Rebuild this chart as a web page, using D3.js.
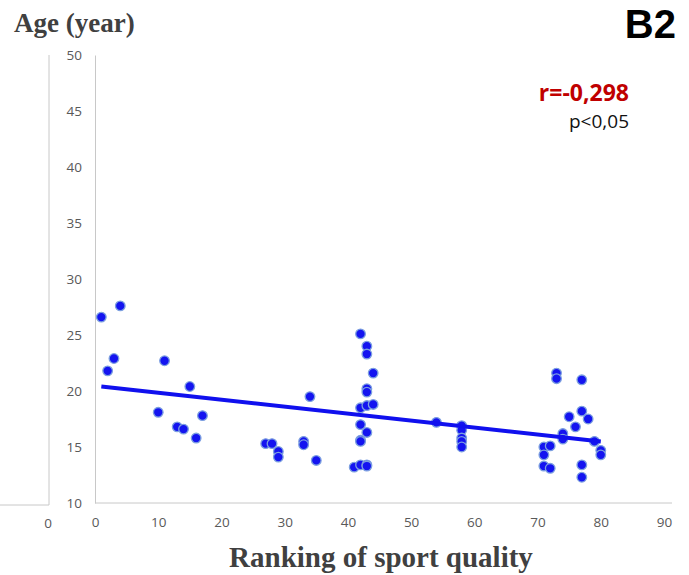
<!DOCTYPE html>
<html lang="en">
  <head>
    <meta charset="UTF-8" />
    <title>B2 - Age vs ranking of sport quality</title>
    <script src="https://d3js.org/d3.v7.min.js"></script>
    <style>
      body { margin: 0; background: #fff; }
      .tick text { font: 13.5px "Open Sans", sans-serif; fill: #595959; }
      .axis path { stroke: #c8c8c8; }
      .title { font-family: "Liberation Serif", serif; font-weight: bold; fill: #404040; }
    </style>
  </head>
  <body>
    <svg width="689" height="575"></svg>
    <script>
      // ranking (x) and age (y)
      var ranking = [1, 2, 3, 4, 10, 11, 13, 14, 15, 16, 17,
        27, 28, 29, 29, 33, 33, 34, 35,
        41, 42, 42, 42, 42, 42, 42, 43, 43, 43, 43, 43, 43, 43, 43, 44, 44,
        54, 58, 58, 58, 58, 58,
        71, 71, 71, 72, 72, 73, 73, 74, 74, 75, 76, 77, 77, 77, 77, 78, 79, 80, 80];
      var age = [26.6, 21.8, 22.9, 27.6, 18.1, 22.7, 16.8, 16.6, 20.4, 15.8, 17.8,
        15.3, 15.3, 14.6, 14.1, 15.5, 15.2, 19.5, 13.8,
        13.2, 25.1, 18.5, 17.0, 15.6, 15.5, 13.4, 24.0, 23.3, 20.2, 19.9, 18.7, 16.3, 13.4, 13.3, 21.6, 18.8,
        17.2, 16.9, 16.5, 15.8, 15.5, 15.0,
        15.0, 14.3, 13.3, 15.1, 13.1, 21.6, 21.1, 16.2, 15.7, 17.7, 16.8, 21.0, 18.2, 13.4, 12.3, 17.5, 15.5, 14.7, 14.3];
      // fitted line end points (ranking, age)
      var trendX = [1, 80];
      var trendY = [20.4, 15.5];
      var xTicks = [0, 10, 20, 30, 40, 50, 60, 70, 80, 90];
      var yTicks = [10, 15, 20, 25, 30, 35, 40, 45, 50];

      var svg = d3.select("svg");

      var x = d3.scaleLinear().domain([0, 90]).range([95, 664]);
      var y = d3.scaleLinear().domain([10, 50]).range([503, 55]);

      // leftover frame of the neighbouring panel
      svg.append("path")
        .attr("d", "M49,55V505H0")
        .attr("fill", "none")
        .attr("stroke", "#c8c8c8");
      svg.append("text")
        .attr("x", 48).attr("y", 528)
        .attr("text-anchor", "middle")
        .style("font", '13.5px "Open Sans", sans-serif')
        .style("fill", "#595959")
        .text("0");

      // axes
      svg.append("g")
        .attr("class", "axis")
        .attr("transform", "translate(0,503)")
        .call(d3.axisBottom(x).tickValues(xTicks).tickSize(0).tickPadding(14))
        .select(".domain").attr("d", "M95,0H672");

      svg.append("g")
        .attr("class", "axis")
        .attr("transform", "translate(95,0)")
        .call(d3.axisLeft(y).tickValues(yTicks).tickSize(0).tickPadding(13));

      // points
      svg.append("g")
        .selectAll("circle")
        .data(ranking)
        .enter()
        .append("circle")
        .attr("cx", function (d) { return x(d); })
        .attr("cy", function (d, i) { return y(age[i]); })
        .attr("r", 4.8)
        .attr("fill", "#1414f0")
        .attr("stroke", "#7c9fe0")
        .attr("stroke-width", 1.3);

      // trend line
      svg.append("line")
        .attr("x1", x(trendX[0])).attr("y1", y(trendY[0]))
        .attr("x2", x(trendX[1])).attr("y2", y(trendY[1]))
        .attr("stroke", "#1010ee")
        .attr("stroke-width", 4);

      // titles
      svg.append("text")
        .attr("class", "title")
        .attr("x", 14).attr("y", 32)
        .style("font-size", "27px")
        .text("Age (year)");

      svg.append("text")
        .attr("class", "title")
        .attr("x", 381).attr("y", 567)
        .attr("text-anchor", "middle")
        .style("font-size", "29px")
        .text("Ranking of sport quality");

      svg.append("text")
        .attr("x", 676).attr("y", 38)
        .attr("text-anchor", "end")
        .style("font", 'bold 40px "Liberation Sans", sans-serif')
        .style("fill", "#000")
        .text("B2");

      svg.append("text")
        .attr("x", 629).attr("y", 101)
        .attr("text-anchor", "end")
        .style("font", 'bold 23px "Open Sans", sans-serif')
        .style("fill", "#c00000")
        .text("r=-0,298");

      svg.append("text")
        .attr("x", 629).attr("y", 128)
        .attr("text-anchor", "end")
        .style("font", '19px "Open Sans", sans-serif')
        .style("fill", "#111")
        .text("p<0,05");
    </script>
  </body>
</html>
